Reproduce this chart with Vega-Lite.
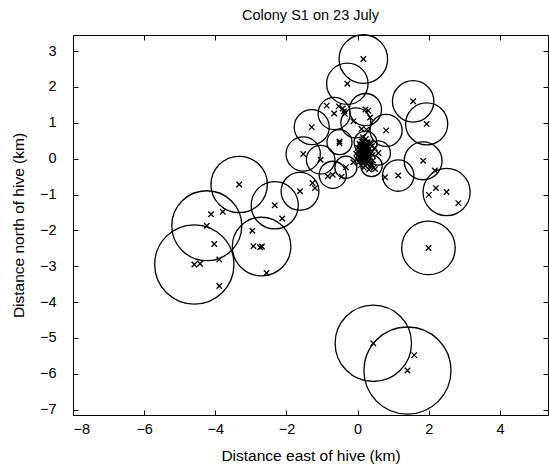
{
  "$schema": "https://vega.github.io/schema/vega-lite/v6.json",
  "width": 475,
  "height": 380,
  "autosize": "none",
  "padding": {"left": 73, "top": 35, "right": 1, "bottom": 51},
  "background": "white",
  "title": {"text": "Colony S1 on 23 July", "fontSize": 14.5, "fontWeight": "normal", "font": "Liberation Sans", "color": "black", "anchor": "middle", "offset": 9},
  "config": {
    "view": {"stroke": null},
    "axis": {"grid": false, "domainColor": "black", "tickColor": "black", "labelColor": "black", "titleColor": "black", "labelFont": "Liberation Sans", "titleFont": "Liberation Sans", "labelFontSize": 14.5, "titleFontSize": 15.5, "titleFontWeight": "normal", "titleLimit": 1000, "tickSize": -5, "domainWidth": 1, "tickWidth": 1}
  },
  "layer": [
    {
      "data": {"values": [
        {"x": 0.16, "y": 2.78, "r": 0.68}, {"x": -0.29, "y": 2.09, "r": 0.58}, {"x": 1.56, "y": 1.60, "r": 0.58},
        {"x": 1.94, "y": 0.97, "r": 0.59}, {"x": 1.84, "y": -0.06, "r": 0.53}, {"x": 2.50, "y": -0.93, "r": 0.66},
        {"x": 1.99, "y": -2.49, "r": 0.75}, {"x": 0.44, "y": -5.15, "r": 1.07}, {"x": 1.40, "y": -5.91, "r": 1.22},
        {"x": -4.59, "y": -2.95, "r": 1.11}, {"x": -4.24, "y": -1.87, "r": 0.98}, {"x": -3.33, "y": -0.72, "r": 0.79},
        {"x": -2.33, "y": -1.30, "r": 0.66}, {"x": -2.70, "y": -2.45, "r": 0.82}, {"x": -1.62, "y": -0.91, "r": 0.53},
        {"x": -1.53, "y": 0.13, "r": 0.48}, {"x": -1.29, "y": 0.88, "r": 0.49}, {"x": -0.66, "y": 1.26, "r": 0.45},
        {"x": 0.22, "y": 1.37, "r": 0.45}, {"x": -0.05, "y": 1.0, "r": 0.42}, {"x": -0.51, "y": 0.46, "r": 0.35},
        {"x": -1.04, "y": -0.03, "r": 0.40}, {"x": -0.70, "y": -0.45, "r": 0.38}, {"x": -0.33, "y": -0.24, "r": 0.31},
        {"x": 0.80, "y": 0.79, "r": 0.45}, {"x": 0.58, "y": 0.16, "r": 0.34}, {"x": 0.39, "y": -0.20, "r": 0.30},
        {"x": 1.14, "y": -0.47, "r": 0.44}, {"x": 0.22, "y": 0.45, "r": 0.32}
      ]},
      "mark": {"type": "point", "shape": "circle", "filled": false, "stroke": "black", "strokeWidth": 1.3, "opacity": 1},
      "encoding": {
        "x": {"field": "x", "type": "quantitative", "scale": {"domain": [-8, 5.35], "nice": false, "zero": false}, "axis": {"orient": "bottom", "title": "Distance east of hive (km)", "values": [-8, -6, -4, -2, 0, 2, 4], "labelPadding": 12, "titlePadding": 13}},
        "y": {"field": "y", "type": "quantitative", "scale": {"domain": [-7.15, 3.45], "nice": false, "zero": false}, "axis": {"orient": "left", "title": "Distance north of hive (km)", "values": [-7, -6, -5, -4, -3, -2, -1, 0, 1, 2, 3], "labelPadding": 22, "titlePadding": 13}},
        "size": {"field": "r", "type": "quantitative", "scale": {"type": "pow", "exponent": 2, "domain": [0, 2], "range": [0, 20392]}, "legend": null}
      }
    },
    {
      "data": {"values": [
        {"x": 0.16, "y": 2.78}, {"x": -0.29, "y": 2.09}, {"x": 1.56, "y": 1.60}, {"x": 1.94, "y": 0.97},
        {"x": -0.87, "y": 1.48}, {"x": -0.66, "y": 1.26}, {"x": -0.53, "y": 1.46}, {"x": -0.38, "y": 1.32},
        {"x": -0.42, "y": 1.40}, {"x": -0.36, "y": 1.25}, {"x": 0.22, "y": 1.37}, {"x": 0.30, "y": 1.34},
        {"x": 0.35, "y": 1.15}, {"x": -0.12, "y": 1.04}, {"x": -1.29, "y": 0.88}, {"x": 0.80, "y": 0.79},
        {"x": 0.11, "y": 0.83}, {"x": 0.25, "y": 0.81}, {"x": -0.51, "y": 0.48}, {"x": -0.51, "y": 0.43},
        {"x": -1.53, "y": 0.13}, {"x": -1.04, "y": -0.03}, {"x": -0.84, "y": -0.49}, {"x": -0.70, "y": -0.45},
        {"x": -0.45, "y": -0.50}, {"x": -0.33, "y": -0.24}, {"x": -0.12, "y": -0.10}, {"x": 0.58, "y": 0.16},
        {"x": 0.49, "y": -0.29}, {"x": 0.77, "y": -0.52}, {"x": 1.14, "y": -0.47}, {"x": 1.84, "y": -0.06},
        {"x": 2.17, "y": -0.33}, {"x": 2.20, "y": -0.82}, {"x": 2.00, "y": -1.01}, {"x": 2.50, "y": -0.93},
        {"x": 2.83, "y": -1.24}, {"x": 1.99, "y": -2.49}, {"x": -1.27, "y": -0.68}, {"x": -1.20, "y": -0.82},
        {"x": -1.62, "y": -0.91}, {"x": -2.33, "y": -1.30}, {"x": -2.12, "y": -1.67}, {"x": -3.33, "y": -0.72},
        {"x": -3.79, "y": -1.48}, {"x": -4.12, "y": -1.55}, {"x": -4.24, "y": -1.87}, {"x": -4.03, "y": -2.38},
        {"x": -2.96, "y": -2.01}, {"x": -2.93, "y": -2.44}, {"x": -2.74, "y": -2.47}, {"x": -2.69, "y": -2.45},
        {"x": -2.56, "y": -3.19}, {"x": -4.59, "y": -2.95}, {"x": -4.43, "y": -2.93}, {"x": -3.89, "y": -2.81},
        {"x": -3.89, "y": -3.55}, {"x": 0.44, "y": -5.15}, {"x": 1.59, "y": -5.48}, {"x": 1.40, "y": -5.91},
        {"x": 0.12, "y": 0.10}, {"x": 0.15, "y": 0.05}, {"x": 0.08, "y": 0.15}, {"x": 0.20, "y": 0.12},
        {"x": 0.18, "y": 0.22}, {"x": 0.05, "y": 0.02}, {"x": 0.25, "y": 0.00}, {"x": 0.10, "y": -0.05},
        {"x": 0.22, "y": 0.30}, {"x": 0.14, "y": 0.35}, {"x": 0.02, "y": 0.20}, {"x": 0.30, "y": 0.18},
        {"x": 0.28, "y": -0.08}, {"x": 0.35, "y": 0.05}, {"x": 0.16, "y": -0.12}, {"x": 0.06, "y": 0.28},
        {"x": 0.19, "y": 0.42}, {"x": 0.11, "y": 0.48}, {"x": 0.26, "y": 0.38}, {"x": 0.00, "y": 0.08},
        {"x": -0.04, "y": 0.14}, {"x": 0.38, "y": -0.15}, {"x": 0.42, "y": 0.10}, {"x": 0.33, "y": 0.28},
        {"x": 0.09, "y": -0.18}, {"x": 0.21, "y": -0.20}, {"x": 0.13, "y": 0.25}, {"x": 0.24, "y": 0.20},
        {"x": 0.17, "y": 0.00}, {"x": 0.07, "y": 0.38}, {"x": 0.29, "y": 0.10}, {"x": 0.45, "y": -0.25},
        {"x": 0.32, "y": -0.30}, {"x": 0.03, "y": -0.10}, {"x": 0.23, "y": 0.55}, {"x": 0.15, "y": 0.60},
        {"x": 0.36, "y": 0.45}, {"x": 0.48, "y": 0.30}, {"x": 0.10, "y": 0.30}, {"x": 0.19, "y": 0.08},
        {"x": 0.13, "y": 0.18}, {"x": 0.21, "y": 0.05}, {"x": 0.09, "y": 0.07}, {"x": 0.26, "y": 0.14},
        {"x": 0.16, "y": 0.28}, {"x": 0.04, "y": 0.12}, {"x": 0.31, "y": 0.02}, {"x": 0.14, "y": -0.03},
        {"x": 0.22, "y": -0.06}, {"x": 0.18, "y": 0.16}, {"x": 0.11, "y": 0.22}, {"x": 0.27, "y": 0.25},
        {"x": 0.07, "y": -0.02}, {"x": 0.20, "y": 0.35}, {"x": 0.34, "y": 0.13}, {"x": 0.12, "y": 0.40},
        {"x": 0.25, "y": -0.14}, {"x": 0.39, "y": 0.20}, {"x": 0.01, "y": 0.30}, {"x": 0.16, "y": 0.50},
        {"x": 0.28, "y": 0.46}, {"x": 0.40, "y": 0.35}, {"x": 0.43, "y": -0.05}, {"x": 0.36, "y": -0.22},
        {"x": 0.05, "y": 0.42}, {"x": -0.02, "y": -0.02}, {"x": 0.17, "y": -0.25}, {"x": 0.30, "y": 0.33}
      ]},
      "mark": {"type": "point", "shape": "M-1,-1L1,1M-1,1L1,-1", "filled": false, "stroke": "black", "strokeWidth": 1.3, "size": 30, "opacity": 1},
      "encoding": {
        "x": {"field": "x", "type": "quantitative", "axis": {"orient": "top", "title": null, "labels": false, "values": [-8, -6, -4, -2, 0, 2, 4]}},
        "y": {"field": "y", "type": "quantitative", "axis": {"orient": "right", "title": null, "labels": false, "values": [-7, -6, -5, -4, -3, -2, -1, 0, 1, 2, 3]}}
      }
    }
  ],
  "resolve": {"axis": {"x": "independent", "y": "independent"}}
}
